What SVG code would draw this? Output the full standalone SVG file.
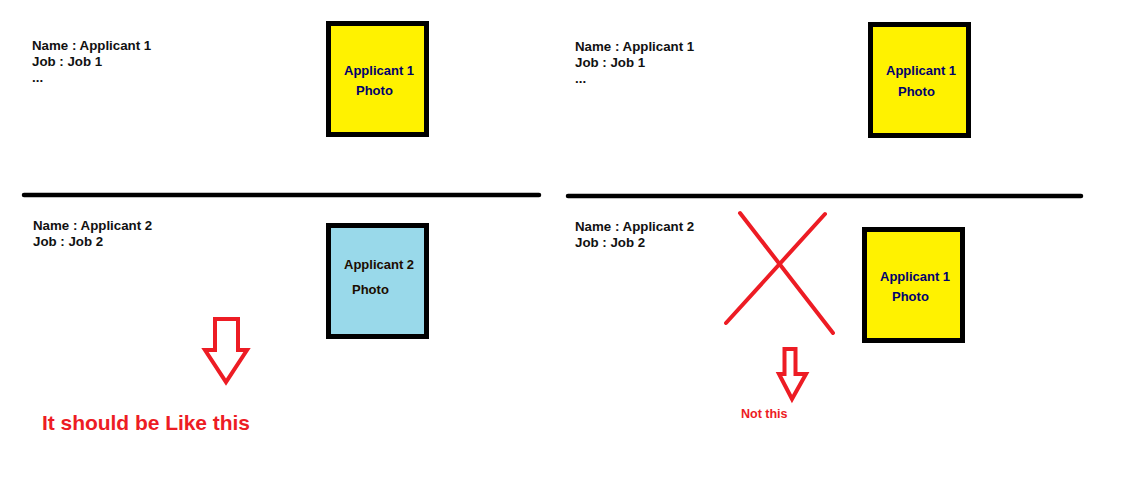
<svg xmlns="http://www.w3.org/2000/svg" width="1148" height="480" viewBox="0 0 1148 480">
<style>
.t{font-family:"Liberation Sans",Arial,sans-serif;font-weight:bold;font-size:13.3px;fill:#111}
.bt{font-family:"Liberation Sans",Arial,sans-serif;font-weight:bold;font-size:13px;fill:#00006e}
.bt2{font-family:"Liberation Sans",Arial,sans-serif;font-weight:bold;font-size:13px;fill:#1c0c00}
.box{stroke:#000;stroke-width:5}
.red{fill:none;stroke:#ed1c24;stroke-width:4;stroke-linejoin:miter}
.sep{stroke:#000;stroke-width:4.5;stroke-linecap:round}
</style>
<rect width="1148" height="480" fill="#fff"/>
<g id="left-app1-info">
<text class="t" x="32" y="50">Name : Applicant 1</text>
<text class="t" x="32" y="66">Job : Job 1</text>
<text class="t" x="32" y="82">...</text>
</g>
<g id="left-photo1">
<rect class="box" x="328.5" y="23.5" width="98" height="111" fill="#fff200"/>
<text class="bt" x="344" y="75">Applicant 1</text>
<text class="bt" x="356" y="95">Photo</text>
</g>
<g id="left-app2-info">
<text class="t" x="33" y="230">Name : Applicant 2</text>
<text class="t" x="33" y="246">Job : Job 2</text>
</g>
<g id="left-photo2">
<rect class="box" x="328.5" y="225.5" width="98" height="111" fill="#99d9ea"/>
<text class="bt2" x="344" y="269">Applicant 2</text>
<text class="bt2" x="352" y="294">Photo</text>
</g>
<g id="right-app1-info">
<text class="t" x="575" y="51">Name : Applicant 1</text>
<text class="t" x="575" y="67">Job : Job 1</text>
<text class="t" x="575" y="83">...</text>
</g>
<g id="right-photo1">
<rect class="box" x="870.5" y="24.5" width="98" height="111" fill="#fff200"/>
<text class="bt" x="886" y="75">Applicant 1</text>
<text class="bt" x="898" y="96">Photo</text>
</g>
<g id="right-app2-info">
<text class="t" x="575" y="231">Name : Applicant 2</text>
<text class="t" x="575" y="247">Job : Job 2</text>
</g>
<g id="right-photo-wrong">
<rect class="box" x="864.5" y="229.5" width="98" height="111" fill="#fff200"/>
<text class="bt" x="880" y="281">Applicant 1</text>
<text class="bt" x="892" y="301">Photo</text>
</g>
<g id="connectors">
<line class="sep" x1="24" y1="195" x2="539" y2="195"/>
<line class="sep" x1="568" y1="196" x2="1081" y2="196"/>
<polygon class="red" points="215,319 238,319 238,350 247,350 226,382 205,350 215,350"/>
<polygon class="red" points="784.5,349 795.5,349 795.5,374 806,374 792,399 779,374 784.5,374"/>
<line x1="740" y1="213" x2="833" y2="333" stroke="#ed1c24" stroke-width="4" stroke-linecap="round"/>
<line x1="825" y1="214" x2="726" y2="323" stroke="#ed1c24" stroke-width="4" stroke-linecap="round"/>
</g>
<g id="labels">
<text x="42" y="430" font-family="'Liberation Sans',Arial,sans-serif" font-weight="bold" font-size="21" fill="#ed1c24" textLength="208">It should be Like this</text>
<text x="741" y="418" font-family="'Liberation Sans',Arial,sans-serif" font-weight="bold" font-size="12.5" fill="#ed1c24">Not this</text>
</g>
</svg>
